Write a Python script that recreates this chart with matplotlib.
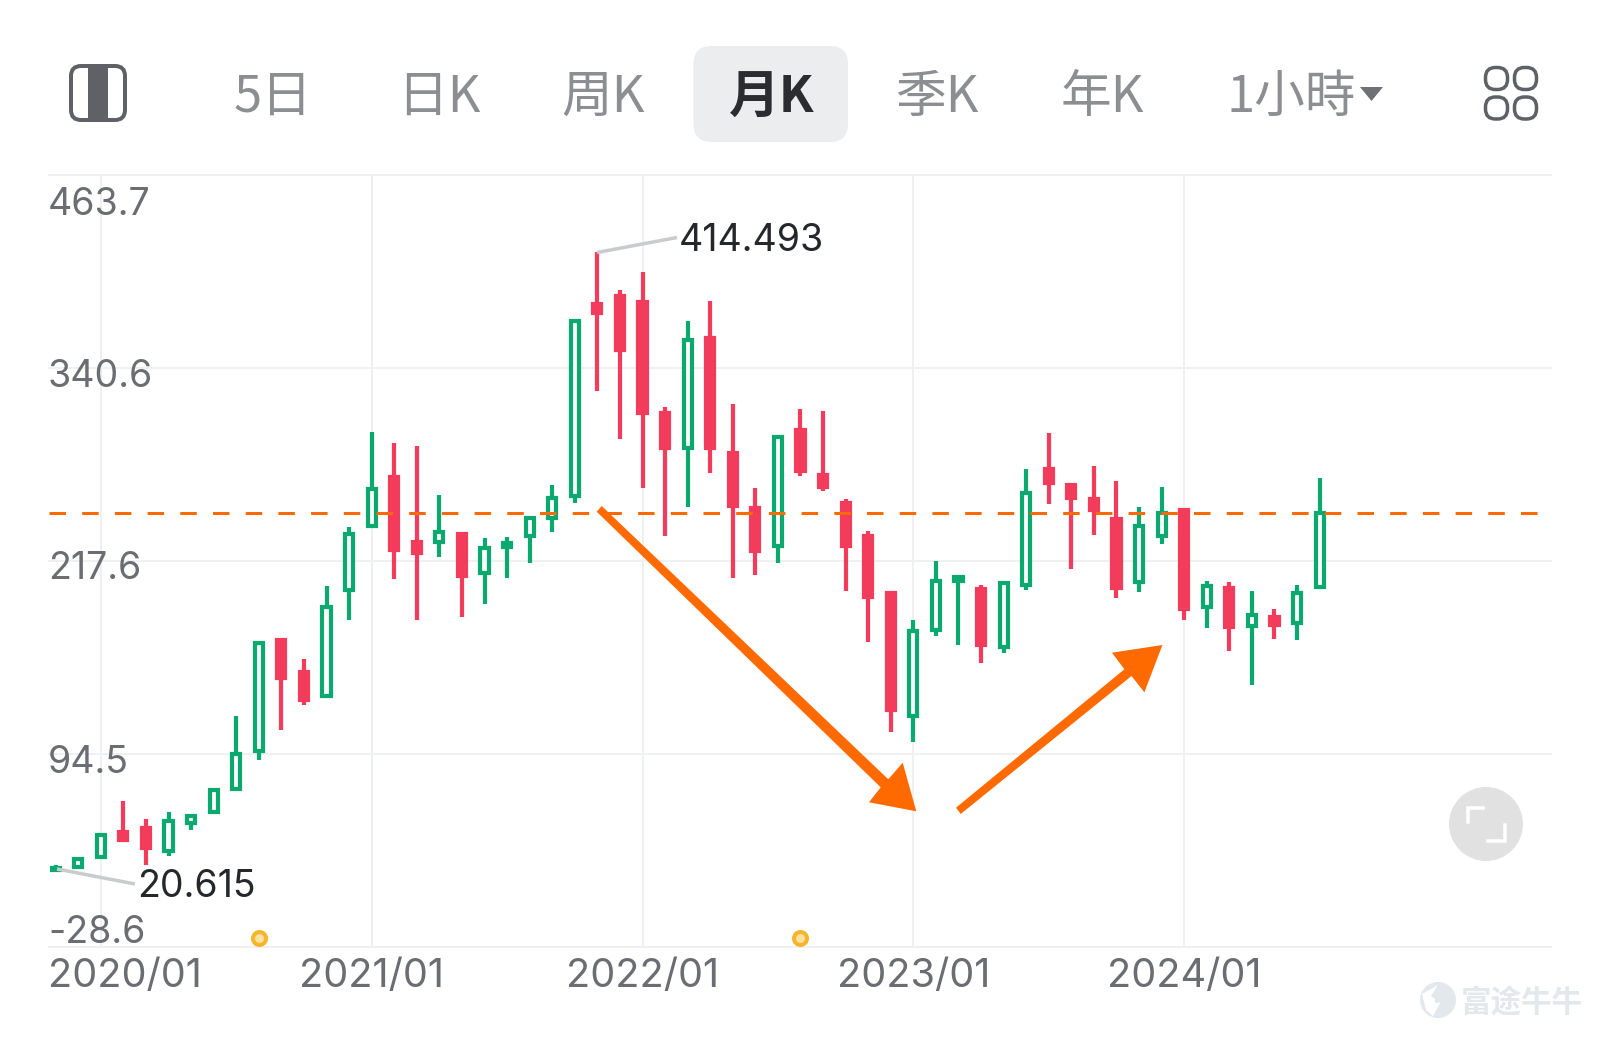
import matplotlib as mpl
mpl.use('Agg')
from matplotlib import pyplot as plt
from matplotlib import transforms
from matplotlib.patches import Circle, FancyBboxPatch, Polygon
import numpy as np

mpl.rc('font', family=['Inter', 'DejaVu Sans'])

opens = [20.6, 22.2, 28.5, 44.6, 47.1, 32.7, 50.2, 57.2, 72.1, 96.5,
         167.2, 146.6, 131.6, 199.2, 240.0, 271.0, 229.5, 229.4, 234.5, 209.7,
         226.2, 233.3, 244.7, 259.2, 381.5, 386.4, 382.6, 311.8, 289.8, 360.1,
         286.5, 251.4, 226.9, 301.2, 272.5, 254.4, 233.8, 197.0, 118.5, 173.7,
         204.8, 199.8, 162.8, 202.4, 276.3, 266.1, 257.2, 244.4, 203.9, 233.3,
         249.9, 188.4, 200.2, 176.2, 181.7, 178.0, 201.1]
closes = [21.6, 27.2, 42.9, 39.6, 34.5, 51.4, 54.8, 71.2, 94.5, 165.3,
          142.7, 128.9, 188.5, 234.6, 263.5, 224.7, 222.4, 235.9, 208.1, 225.9,
          228.9, 244.9, 257.8, 370.9, 376.1, 352.1, 311.9, 289.8, 358.8, 289.8,
          252.6, 224.1, 296.5, 275.1, 264.9, 227.3, 194.4, 122.7, 172.8, 205.1,
          207.2, 163.9, 203.4, 261.0, 267.1, 257.7, 250.0, 200.3, 239.6, 248.0,
          186.9, 201.5, 175.4, 182.8, 176.7, 197.2, 247.9]
highs = [23.7, 27.2, 42.9, 64.1, 53.0, 57.3, 54.8, 71.2, 118.9, 165.3,
         167.2, 154.8, 201.8, 239.0, 299.6, 292.9, 290.7, 259.9, 234.5, 232.0,
         232.6, 244.9, 266.1, 370.9, 414.493, 390.4, 402.1, 315.6, 370.9, 383.6,
         317.7, 263.9, 296.5, 314.3, 313.5, 257.1, 236.9, 198.7, 180.2, 217.3,
         207.2, 202.3, 203.4, 276.3, 299.0, 266.1, 278.4, 268.6, 252.2, 264.5,
         249.9, 205.0, 203.9, 198.2, 186.7, 202.5, 270.5]
lows = [20.615, 22.2, 28.5, 39.6, 23.3, 29.6, 45.6, 57.2, 72.1, 90.7,
        109.8, 125.9, 131.6, 180.2, 240.0, 206.1, 180.0, 219.9, 182.1, 190.2,
        206.8, 216.3, 236.3, 254.3, 326.2, 295.4, 263.9, 233.3, 252.2, 273.7,
        206.8, 208.7, 216.3, 271.5, 262.0, 198.7, 166.1, 108.3, 101.9, 169.8,
        164.0, 152.3, 158.7, 199.3, 253.9, 212.2, 234.4, 194.0, 198.0, 228.4,
        180.0, 175.1, 160.4, 138.7, 167.8, 167.4, 201.1]

y_ticks = [463.7, 340.6, 217.6, 94.5, -28.6]
y_labels = ['463.7', '340.6', '217.6', '94.5', '-28.6']
x_ticks = [2, 14, 26, 38, 50]
x_labels = ['2020/01', '2021/01', '2022/01', '2023/01', '2024/01']
event_idx = [9, 33]
tabs = ['5日', '日K', '周K', '月K', '季K', '年K', '1小時']

GREEN = '#0BA86F'
RED = '#F33B5C'
ORANGE = '#FF6A00'
GRID = '#EFF0F1'
GREY = '#6B6D72'
TAB = '#8C8E92'

W, H = 1600, 1037
PX = 0.72  # one pixel in points at dpi 100

fig = plt.figure(figsize=(W / 100, H / 100), dpi=100, facecolor='white')

##############################################################
# candles
##############################################################
left, right, top, bottom = 49.3, 1550.7, 175.3, 946.7
ax = fig.add_axes([left / W, 1 - bottom / H, (right - left) / W, (bottom - top) / H])
ax.set_xlim(-0.284, 66.24)
ax.set_ylim(-28.6, 463.7)
for s in ax.spines.values():
    s.set_visible(False)

opens = np.array(opens)
closes = np.array(closes)
xs = np.arange(len(opens))
up = closes >= opens
colors = np.where(up, GREEN, RED)

ax.vlines(xs, lows, highs, colors=colors, lw=4.2 * PX, capstyle='butt', zorder=2)
ax.bar(xs, closes - opens, bottom=opens, width=0.36,
       facecolor=['white' if u else RED for u in up],
       edgecolor=colors, linewidth=4.2 * PX, zorder=3)

ax.axhline(closes[-1], color=ORANGE, lw=3 * PX, dashes=(16.5 / 3, 16.2 / 3), zorder=4)

ax.scatter(event_idx, [-22.8] * len(event_idx), s=(13 * PX) ** 2, c='#FFE0A3',
           edgecolors='#F6B52A', linewidths=4 * PX, zorder=5, clip_on=False)

ax.set_xticks(x_ticks)
ax.set_xticklabels(x_labels)
ax.set_yticks(y_ticks)
ax.set_yticklabels(y_labels)
ax.grid(True, color=GRID, lw=2 * PX, zorder=0)
ax.set_axisbelow(True)
for g in ax.get_xgridlines() + ax.get_ygridlines():
    g.set_clip_on(False)
ax.tick_params(length=0, labelcolor=GREY)
ax.tick_params(axis='x', pad=8, labelsize=28.6)
ax.tick_params(axis='y', pad=1, labelsize=27)

y_nudge = [-30, -9, -8, -9, 14]
for lab, dy in zip(ax.get_yticklabels(), y_nudge):
    lab.set_ha('left')
    lab.set_va('center')
    lab.set_transform(lab.get_transform() + transforms.ScaledTranslation(0, dy / 100, fig.dpi_scale_trans))
first = ax.get_xticklabels()[0]
first.set_transform(first.get_transform() + transforms.ScaledTranslation(24 / 100, 0, fig.dpi_scale_trans))

##############################################################
# toolbar, arrows and other things drawn in pixels
##############################################################
ui = fig.add_axes([0, 0, 1, 1], zorder=10)
ui.set_xlim(0, W)
ui.set_ylim(H, 0)
ui.axis('off')
ui.patch.set_alpha(0)

def round_box(x0, y0, x1, y1, r, **kw):
    ui.add_patch(FancyBboxPatch((x0 + r, y0 + r), x1 - x0 - 2 * r, y1 - y0 - 2 * r,
                                boxstyle='round,pad=%g,rounding_size=%g' % (r, r), **kw))

round_box(693.5, 46, 848, 142, 18, fc='#ECEDEF', ec='none')

# left icon
ui.add_patch(plt.Rectangle((88, 66), 20, 54, fc='#5F6166', ec='none'))
round_box(71, 66, 125, 120, 10, fc='none', ec='#5F6166', lw=4 * PX)

tab_x = [273, 439, 603, 772, 937, 1102, 1291]
for i, (t, x) in enumerate(zip(tabs, tab_x)):
    active = t == '月K'
    ui.text(x, 98, t, ha='center', va='center', fontsize=36.5,
            family=['Noto Sans CJK TC', 'DejaVu Sans'],
            color='#2A2C30' if active else TAB, weight='bold' if active else 'normal')
ui.add_patch(Polygon([(1360, 87), (1383, 87), (1371.5, 101)], fc='#6F7175', ec='none'))

# right icon
for x0 in (1485.5, 1514.5):
    for y0 in (67.5, 97):
        round_box(x0, y0, x0 + 22, y0 + 22, 10, fc='none', ec='#5F6166', lw=3.5 * PX)

# high / low callouts
ui.plot([597, 677], [252.5, 237.5], color='#C9CBCD', lw=3.5 * PX, solid_capstyle='butt')
ui.text(679, 241, '414.493', ha='left', va='center', fontsize=27, color='#25272B')
ui.plot([57, 135], [869, 884], color='#C9CBCD', lw=3.5 * PX, solid_capstyle='butt')
ui.text(137, 887, '20.615', ha='left', va='center', fontsize=27, color='#25272B')

# big arrows
ui.add_patch(Polygon([(596.7, 511.7), (601.7, 506), (888.3, 779.3), (902.7, 762.7),
                      (916.3, 811.3), (869, 802.3), (880.7, 787.3)], fc=ORANGE, ec='none'))
ui.add_patch(Polygon([(956, 807.7), (960.7, 814), (1131.5, 676), (1144.4, 692.3),
                      (1162.4, 645), (1112, 652.7), (1124.4, 669.3)], fc=ORANGE, ec='none'))

# fullscreen button
ui.add_patch(Circle((1486, 824), 37, fc='#E1E1E1', ec='none'))
ui.plot([1468, 1468, 1483], [822, 808, 808], color='white', lw=3.5 * PX, solid_joinstyle='miter')
ui.plot([1505, 1505, 1488], [825, 841, 841], color='white', lw=3.5 * PX, solid_joinstyle='miter')

# watermark
ui.add_patch(Circle((1438, 1000), 18, fc='#E3E8ED', ec='none'))
ui.add_patch(Polygon([(1422, 994), (1438, 985), (1431, 996), (1440, 1003), (1433, 1016), (1426, 1010)],
                     fc='white', ec='none'))
ui.add_patch(Circle((1437, 1001), 2.2, fc='#E3E8ED', ec='none'))
ui.text(1522, 1003, '富途牛牛', ha='center', va='center', fontsize=22, color='#E3E8ED',
        family=['Noto Sans CJK SC', 'DejaVu Sans'], weight='bold')

fig.savefig('out.png', dpi=100, facecolor='white')
